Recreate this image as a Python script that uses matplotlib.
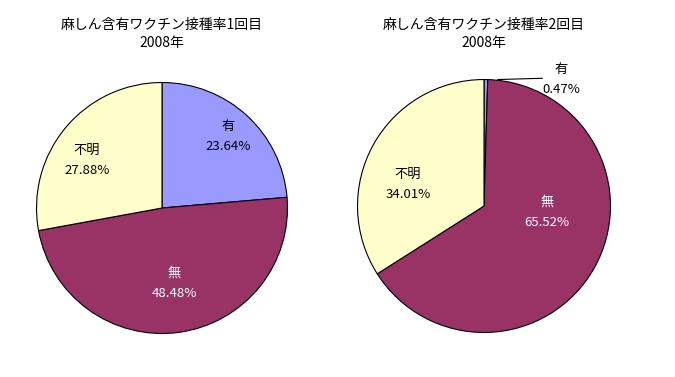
import matplotlib
matplotlib.use("Agg")
import matplotlib.pyplot as plt

plt.rcParams['font.family'] = ['Noto Sans CJK JP', 'DejaVu Sans']

# data
categories = ['有', '無', '不明']
dose1 = [23.64, 48.48, 27.88]
dose2 = [0.47, 65.52, 34.01]
titles = ['麻しん含有ワクチン接種率1回目\n2008年', '麻しん含有ワクチン接種率2回目\n2008年']
colors = ['#9999FF', '#993366', '#FFFFCC']
text_colors = ['black', 'white', 'black']

W, H = 675, 377
fig = plt.figure(figsize=(W / 100, H / 100), dpi=100)
fig.patch.set_facecolor('white')


def add_pie(cx, cy, r, values, title, title_y, label_pos):
    ax = fig.add_axes([(cx - r) / W, (H - cy - r) / H, 2 * r / W, 2 * r / H])
    wedges, texts = ax.pie(values, colors=colors, startangle=90, counterclock=False,
                           radius=1, labels=[f'{c}\n{v:.2f}%' for c, v in zip(categories, values)],
                           wedgeprops=dict(edgecolor='black', linewidth=0.8),
                           textprops=dict(fontsize=9.5, ha='center', va='center',
                                          linespacing=1.75))
    for t, col, pos in zip(texts, text_colors, label_pos):
        t.set_color(col)
        if pos is not None:
            t.set_position(pos)
    ax.set_xlim(-1.02, 1.02)
    ax.set_ylim(-1.02, 1.02)
    ax.set_aspect('auto')
    ax.axis('off')
    fig.text(cx / W, 1 - title_y / H, title, ha='center', va='center', fontsize=10,
             linespacing=1.3)
    return ax


ax1 = add_pie(162, 208, 128, dose1, titles[0], 34,
              [(0.53, 0.57), (0.10, -0.60), (-0.60, 0.38)])
ax2 = add_pie(484, 206, 129, dose2, titles[1], 34,
              [(0.61, 1.0), (0.50, -0.05), (-0.60, 0.17)])
ax2.texts[0].set_color('black')
ax2.plot([0.11, 0.46], [1.0, 1.01], color='black', linewidth=0.8, clip_on=False)

fig.savefig('out.png', dpi=100)
